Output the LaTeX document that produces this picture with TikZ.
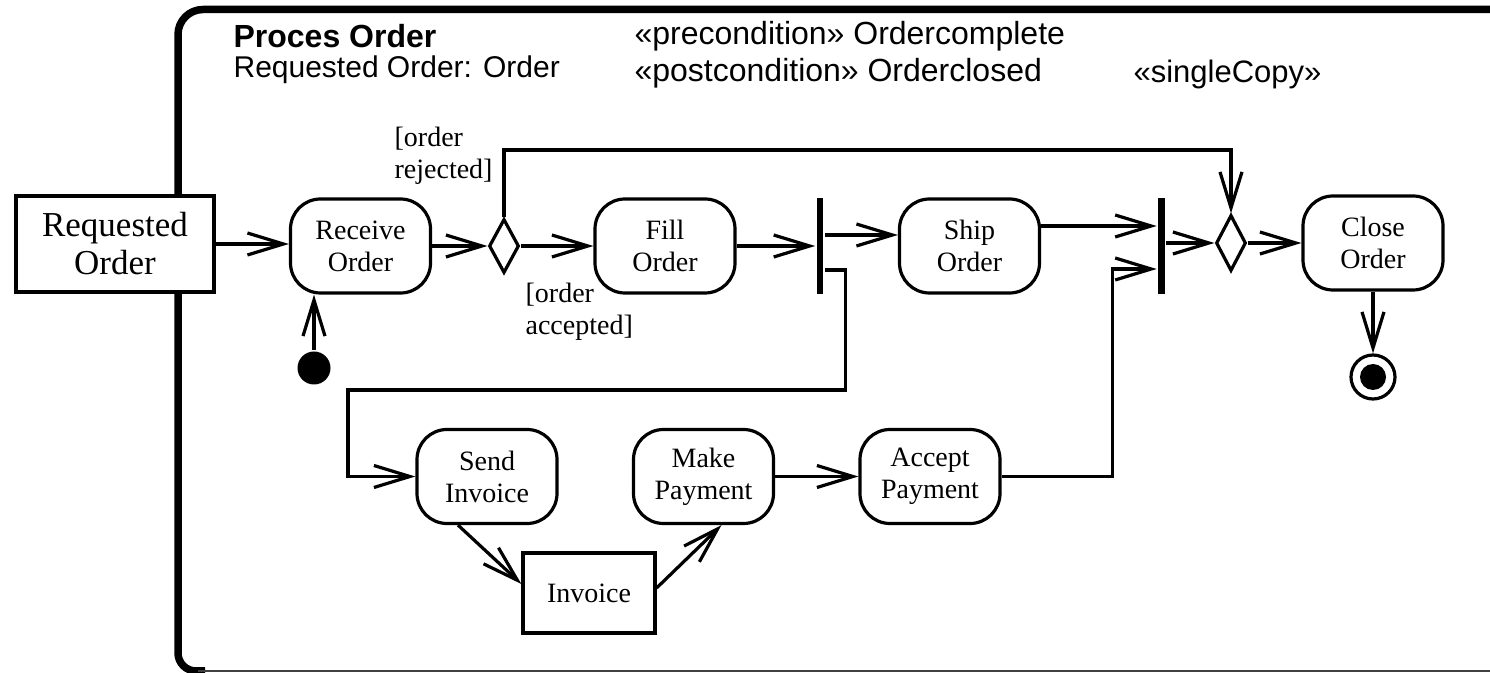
\documentclass[tikz,border=0pt]{standalone}
\usepackage{fontspec}
\setmainfont{Liberation Serif}
\newfontfamily\hdrfont{Liberation Sans}
\usetikzlibrary{arrows.meta,shapes.geometric}
\begin{document}
\begin{tikzpicture}[x=0.5pt,y=-0.5pt,
  line width=1.6pt,
  act/.style={draw, fill=white, rounded corners=15pt, minimum width=70pt,
    minimum height=47pt, inner sep=0pt, align=center,
    font=\fontsize{14}{16}\selectfont},
  obj/.style={draw, fill=white, inner sep=0pt, align=center},
  bar/.style={fill=black, draw=none, minimum width=3.25pt,
    minimum height=48pt, inner sep=0pt},
  decision/.style={draw, fill=white, diamond, minimum width=15pt,
    minimum height=27pt, inner sep=0pt},
  flow/.style={-{Straight Barb[length=18pt,width=11pt]}},
  guard/.style={align=left, inner sep=0pt, font=\fontsize{14}{16}\selectfont},
  hdr/.style={anchor=base west, inner sep=0pt,
    font=\hdrfont\fontsize{15}{18}\selectfont},
]
\useasboundingbox (0,0) rectangle (1490,673);

% activity frame
\draw[line width=3.75pt] (1500,9.5) [rounded corners=12.5pt] -- (178,9.5)
  [rounded corners=9pt] -- (178,671) -- (205,671);
\draw[line width=1pt, black!75] (198,671.5) -- (1490,671.5);

% header texts
\node[hdr, font=\hdrfont\bfseries\fontsize{16}{18}\selectfont] (title) at (232,48) {Proces Order};
\node[hdr] (param) at (232,78) {Requested Order: Order};
\node[hdr, font=\hdrfont\fontsize{16}{18}\selectfont] (pre) at (633,45) {«precondition» Ordercomplete};
\node[hdr, font=\hdrfont\fontsize{16}{18}\selectfont] (post) at (633,82) {«postcondition» Orderclosed};
\node[hdr, font=\hdrfont\fontsize{15.5}{18}\selectfont] (single) at (1132,83) {«singleCopy»};

% nodes
\node[obj, minimum width=99pt, minimum height=48pt,
  font=\fontsize{17.5}{19}\selectfont] (req) at (115,244) {Requested\\Order};
\node[act] (recv) at (360.5,246) {Receive\\Order};
\node[decision] (dec) at (504,246) {};
\node[act] (fill) at (665,246) {Fill\\Order};
\node[bar] (fork) at (820,246) {};
\node[act] (ship) at (969.5,246) {Ship\\Order};
\node[bar] (join) at (1161.5,246) {};
\node[decision, minimum height=28pt] (merge) at (1231,243) {};
\node[act] (close) at (1373,243) {Close\\Order};
\node[draw, circle, minimum size=22pt, inner sep=0pt,
  path picture={\fill (path picture bounding box.center) circle (6.5pt);}]
  (final) at (1373,377) {};
\node[circle, fill=black, minimum size=16.5pt, inner sep=0pt] (init) at (314,368) {};
\node[act] (send) at (487,476.5) {Send\\Invoice};
\node[act] (make) at (703.5,476.5) {Make\\Payment};
\node[act] (acc) at (930,476.5) {Accept\\Payment};
\node[obj, minimum width=66pt, minimum height=40pt,
  font=\fontsize{14}{16}\selectfont] (inv) at (589,593) {Invoice};

% guards
\node[guard, anchor=west] (rej) at (393,156) {[order\\rejected]};
\node[guard, anchor=west] (accp) at (524,312) {[order\\accepted]};

% flows
\draw[flow] (req.east) -- (req.east -| recv.west);
\draw[flow] (recv.east) -- (dec.west);
\draw[flow] (dec.east) -- (fill.west);
\draw[flow] (fill.east) -- (fork.west);
\draw[flow] ([yshift=5.5pt]fork.east) -- ([yshift=5.5pt]ship.west);
\draw[flow] ([yshift=-12pt]fork.east) -- ++(21,0) |- (348,390) |- (send.west);
\draw[flow] ([yshift=10pt]ship.east) -- ([yshift=10pt]join.west);
\draw[flow] (acc.east) -- ++(111,0) |- ([yshift=-11.5pt]join.west);
\draw[flow] (join.east |- merge.west) -- (merge.west);
\draw[flow] (merge.east) -- (merge.east -| close.west);
\draw[flow] (close.south) -- (final.north);
\draw[flow] (init.north) -- (init.north |- recv.south);
\draw[flow] (dec.north) -- (dec.north |- 0,150) -| (merge.north);
\draw[flow] ([xshift=-14.5pt]send.south) -- ([yshift=4.5pt]inv.west);
\draw[flow] ([yshift=2.5pt]inv.east) -- ([xshift=9pt]make.south);
\draw[flow] (make.east) -- (acc.west);
\end{tikzpicture}
\end{document}
